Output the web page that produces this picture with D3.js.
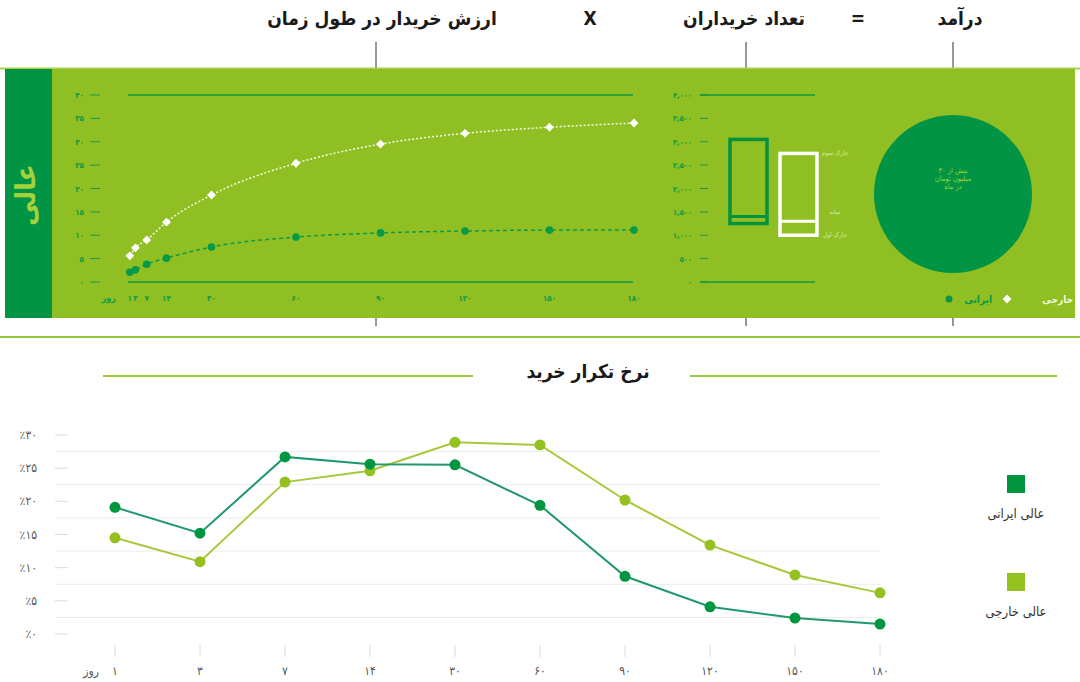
<!DOCTYPE html>
<html><head><meta charset="utf-8">
<script src="https://cdn.jsdelivr.net/npm/d3@7"></script>
<style>body{margin:0;background:#fff}svg{display:block}</style>
</head><body>
<svg id="c" width="1080" height="682"></svg>
<script>
// ---------- data ----------
const days = [1, 3, 7, 14, 30, 60, 90, 120, 150, 180];
const ltvForeign = [5.6, 7.3, 9.0, 12.8, 18.6, 25.4, 29.5, 31.8, 33.1, 34.0];
const ltvIranian = [2.1, 2.6, 3.8, 5.1, 7.5, 9.6, 10.5, 10.9, 11.1, 11.1];
const ltvTicks = [0, 5, 10, 15, 20, 25, 30, 35, 40];
const buyerGroups = ['ایرانی', 'خارجی'];
const buyerQ1 = [1250, 1000];
const buyerMedian = [1400, 1300];
const buyerQ3 = [3050, 2750];
const buyerTicks = [0, 500, 1000, 1500, 2000, 2500, 3000, 3500, 4000];
const quartileLabels = ['چارک سوم', 'میانه', 'چارک اول'];
const revenueText = ['بیش از ۳۰', 'میلیون تومان', 'در ماه'];
const repeatIranian = [19.1, 15.2, 26.7, 25.6, 25.5, 19.4, 8.7, 4.1, 2.4, 1.5];
const repeatForeign = [14.5, 10.9, 22.9, 24.6, 28.9, 28.5, 20.2, 13.4, 8.9, 6.2];
const repeatTicks = [0, 5, 10, 15, 20, 25, 30];
const repeatSeries = ['عالی ایرانی', 'عالی خارجی'];

const fa = v => String(v).replace(/\d/g, d => '۰۱۲۳۴۵۶۷۸۹'[d]);
const faSep = v => fa(d3.format(',')(v));

const DARK = '#00973f', LIGHT = '#8fc21f', PANEL = '#8fbf23';
const FONT = '"DejaVu Sans Condensed","DejaVu Sans",sans-serif';
const svg = d3.select('#c').style('font-family', FONT);

// ---------- header ----------
const header = [
  {t: 'درآمد', x: 960}, {t: '=', x: 858}, {t: 'تعداد خریداران', x: 744},
  {t: 'X', x: 590}, {t: 'ارزش خریدار در طول زمان', x: 382}
];
svg.selectAll('.hd').data(header).join('text')
  .attr('x', d => d.x).attr('y', 25).attr('text-anchor', 'middle')
  .attr('font-size', 19).attr('font-weight', 'bold').attr('fill', '#1a1a1a')
  .text(d => d.t);
[376, 746, 953].forEach(x => {
  svg.append('line').attr('x1', x).attr('x2', x).attr('y1', 42).attr('y2', 68).attr('stroke', '#333').attr('stroke-width', 1);
  svg.append('line').attr('x1', x).attr('x2', x).attr('y1', 318).attr('y2', 326).attr('stroke', '#333').attr('stroke-width', 1);
});

// ---------- green panel ----------
svg.append('line').attr('x1', 0).attr('x2', 1080).attr('y1', 68.5).attr('y2', 68.5).attr('stroke', '#a9d24a').attr('stroke-width', 2);
svg.append('rect').attr('x', 5).attr('y', 69).attr('width', 1070).attr('height', 249).attr('fill', PANEL);
svg.append('rect').attr('x', 5).attr('y', 69).attr('width', 47).attr('height', 249).attr('fill', '#009444');
svg.append('text').attr('transform', 'translate(35,195) rotate(-90)').attr('text-anchor', 'middle')
  .attr('font-size', 28).attr('font-weight', 'bold').attr('fill', '#a5d13a').text('عالی');

// LTV chart
const xT = d3.scaleLinear().domain([0, 180]).range([127, 634]);
const yT = d3.scaleLinear().domain([0, 40]).range([282, 95]);
const gT = svg.append('g');
gT.selectAll('.yl').data(ltvTicks).join('text').attr('x', 84).attr('y', d => yT(d) + 3)
  .attr('text-anchor', 'end').attr('font-size', 8).attr('font-weight', 'bold').attr('fill', '#0d9a44').text(fa);
gT.selectAll('.yd').data(ltvTicks).join('line').attr('x1', 90).attr('x2', 100).attr('y1', d => yT(d)).attr('y2', d => yT(d))
  .attr('stroke', '#1a9a44').attr('stroke-width', 1);
[0, 40].forEach(v => gT.append('line').attr('x1', 128).attr('x2', 633).attr('y1', yT(v)).attr('y2', yT(v)).attr('stroke', '#119a40').attr('stroke-width', 1.5));
gT.selectAll('.xl').data(days).join('text').attr('x', d => xT(d)).attr('y', 301)
  .attr('text-anchor', 'middle').attr('font-size', 8).attr('font-weight', 'bold').attr('fill', '#0d9a44').text(fa);
gT.append('text').attr('x', 116).attr('y', 301).attr('text-anchor', 'end').attr('font-size', 9).attr('font-weight', 'bold').attr('fill', '#0d9a44').text('روز');

const lineT = d3.line().x((d, i) => xT(days[i])).y(d => yT(d)).curve(d3.curveMonotoneX);
gT.append('path').attr('d', lineT(ltvIranian)).attr('fill', 'none').attr('stroke', '#109a45').attr('stroke-width', 1.5).attr('stroke-dasharray', '4,3');
gT.append('path').attr('d', lineT(ltvForeign)).attr('fill', 'none').attr('stroke', '#f4fbe0').attr('stroke-width', 1.5).attr('stroke-dasharray', '2,2');
gT.selectAll('.pc').data(ltvIranian).join('circle').attr('cx', (d, i) => xT(days[i])).attr('cy', d => yT(d)).attr('r', 3.8).attr('fill', '#069a46');
const diamond = d3.symbol().type(d3.symbolDiamond2).size(50);
gT.selectAll('.pd').data(ltvForeign).join('path').attr('d', diamond)
  .attr('transform', (d, i) => `translate(${xT(days[i])},${yT(d)})`).attr('fill', '#fff');

// Buyer count box chart
const yM = d3.scaleLinear().domain([0, 4000]).range([282, 95]);
const xM = d3.scaleBand().domain(buyerGroups).range([730, 817]).paddingInner(0.26);
const gM = svg.append('g');
gM.selectAll('.yl').data(buyerTicks).join('text').attr('x', 692).attr('y', d => yM(d) + 3)
  .attr('text-anchor', 'end').attr('font-size', 7.5).attr('font-weight', 'bold').attr('fill', '#0d9a44').text(faSep);
gM.selectAll('.yd').data(buyerTicks).join('line').attr('x1', 700).attr('x2', 708).attr('y1', d => yM(d)).attr('y2', d => yM(d))
  .attr('stroke', '#1a9a44').attr('stroke-width', 1);
[0, 4000].forEach(v => gM.append('line').attr('x1', 700).attr('x2', 815).attr('y1', yM(v)).attr('y2', yM(v)).attr('stroke', '#119a40').attr('stroke-width', 1.5));
const boxCol = ['#05923f', '#ffffff'];
buyerGroups.forEach((g, i) => {
  const x = xM(g), w = xM.bandwidth();
  gM.append('rect').attr('x', x).attr('y', yM(buyerQ3[i])).attr('width', w).attr('height', yM(buyerQ1[i]) - yM(buyerQ3[i]))
    .attr('fill', 'none').attr('stroke', boxCol[i]).attr('stroke-width', 3.5);
  gM.append('line').attr('x1', x).attr('x2', x + w).attr('y1', yM(buyerMedian[i])).attr('y2', yM(buyerMedian[i]))
    .attr('stroke', boxCol[i]).attr('stroke-width', 3);
});
const qY = [buyerQ3[1], (buyerMedian[0] + buyerMedian[1]) / 2 + 150, buyerQ1[1]];
gM.selectAll('.ql').data(quartileLabels).join('text').attr('x', 835).attr('y', (d, i) => yM(qY[i]) + 2)
  .attr('text-anchor', 'middle').attr('font-size', 6.5).attr('fill', '#d5ec9c').text(d => d);

// Revenue circle
svg.append('circle').attr('cx', 953).attr('cy', 194).attr('r', 79).attr('fill', '#009444');
svg.selectAll('.rv').data(revenueText).join('text').attr('x', 953).attr('y', (d, i) => 173 + i * 8)
  .attr('text-anchor', 'middle').attr('font-size', 7.5).attr('fill', '#9fd03a').text(d => d);

// Legend (top)
svg.append('text').attr('x', 1073).attr('y', 303).attr('text-anchor', 'end').attr('font-size', 10).attr('font-weight', 'bold').attr('fill', '#f4fbe0').text('خارجی');
svg.append('path').attr('d', diamond).attr('transform', 'translate(1007,299)').attr('fill', '#fff');
svg.append('text').attr('x', 992).attr('y', 303).attr('text-anchor', 'end').attr('font-size', 10).attr('font-weight', 'bold').attr('fill', '#0a9444').text('ایرانی');
svg.append('circle').attr('cx', 949).attr('cy', 299).attr('r', 3.5).attr('fill', '#0a9444');

// ---------- bottom section ----------
svg.append('line').attr('x1', 0).attr('x2', 1080).attr('y1', 337).attr('y2', 337).attr('stroke', '#95c53a').attr('stroke-width', 2);
svg.append('text').attr('x', 588).attr('y', 378).attr('text-anchor', 'middle').attr('font-size', 19).attr('font-weight', 'bold').attr('fill', '#1a1a1a').text('نرخ تکرار خرید');
svg.append('line').attr('x1', 103).attr('x2', 473).attr('y1', 376).attr('y2', 376).attr('stroke', '#9cc93f').attr('stroke-width', 2);
svg.append('line').attr('x1', 690).attr('x2', 1057).attr('y1', 376).attr('y2', 376).attr('stroke', '#9cc93f').attr('stroke-width', 2);

const xB = d3.scalePoint().domain(days).range([115, 880]);
const yB = d3.scaleLinear().domain([0, 30]).range([634, 435]);
const gB = svg.append('g');
const grid = repeatTicks.slice(0, -1).map(v => v + 2.5);
gB.selectAll('.gr').data(grid).join('line').attr('x1', 55).attr('x2', 880).attr('y1', d => yB(d)).attr('y2', d => yB(d))
  .attr('stroke', '#ececec').attr('stroke-width', 1);
gB.selectAll('.yd').data(repeatTicks).join('line').attr('x1', 55).attr('x2', 68).attr('y1', d => yB(d)).attr('y2', d => yB(d))
  .attr('stroke', '#dcdcdc').attr('stroke-width', 1);
gB.selectAll('.yl').data(repeatTicks).join('text').attr('x', 37).attr('y', d => yB(d) + 4)
  .attr('text-anchor', 'end').attr('font-size', 12).attr('fill', '#555').text(d => '٪' + fa(d));
gB.selectAll('.xd').data(days).join('line').attr('x1', d => xB(d)).attr('x2', d => xB(d)).attr('y1', 645).attr('y2', 657)
  .attr('stroke', '#dcdcdc').attr('stroke-width', 1);
gB.selectAll('.xl').data(days).join('text').attr('x', d => xB(d)).attr('y', 675)
  .attr('text-anchor', 'middle').attr('font-size', 12).attr('fill', '#555').text(fa);
gB.append('text').attr('x', 99).attr('y', 675).attr('text-anchor', 'end').attr('font-size', 12).attr('fill', '#555').text('روز');

const lineB = d3.line().x((d, i) => xB(days[i])).y(d => yB(d));
const seriesB = [
  {vals: repeatForeign, line: '#a6c93b', dot: '#94c11f'},
  {vals: repeatIranian, line: '#21996a', dot: '#00963f'}
];
seriesB.forEach(s => {
  gB.append('path').attr('d', lineB(s.vals)).attr('fill', 'none').attr('stroke', s.line).attr('stroke-width', 2);
  gB.selectAll(null).data(s.vals).join('circle').attr('cx', (d, i) => xB(days[i])).attr('cy', d => yB(d)).attr('r', 5.5).attr('fill', s.dot);
});

// legend bottom
const legCol = ['#00963f', '#94c11f'];
repeatSeries.forEach((n, i) => {
  svg.append('rect').attr('x', 1007).attr('y', 475 + i * 98).attr('width', 18).attr('height', 18).attr('fill', legCol[i]);
  svg.append('text').attr('x', 1016).attr('y', 518 + i * 98).attr('text-anchor', 'middle').attr('font-size', 13).attr('fill', '#333').text(n);
});
</script>
</body></html>
